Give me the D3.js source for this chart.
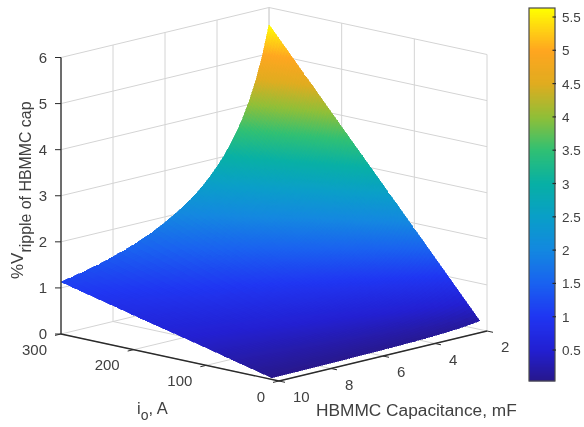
<!DOCTYPE html>
<html><head><meta charset="utf-8">
<script src="https://cdn.jsdelivr.net/npm/d3@7"></script>
<style>html,body{margin:0;padding:0;background:#fff}svg{display:block;filter:blur(0.6px)}text{font-family:"Liberation Sans",Arial,sans-serif;fill:#404040}</style>
</head><body><svg id="c" width="584" height="427"></svg>
<script>
const capacitance=[2,2.25,2.5,2.75,3,3.25,3.5,3.75,4,4.25,4.5,4.75,5,5.5,6,6.5,7,7.5,8,8.5,9,9.5,10];
const current=[300,200,100,10];
const ripple300=[5.63,5.00,4.50,4.09,3.75,3.46,3.22,3.00,2.82,2.65,2.50,2.37,2.25,2.05,1.88,1.73,1.61,1.50,1.41,1.32,1.25,1.19,1.13];
const ripple200=[3.75,3.34,3.00,2.73,2.50,2.31,2.14,2.00,1.88,1.77,1.67,1.58,1.50,1.36,1.25,1.15,1.07,1.00,0.94,0.88,0.83,0.79,0.75];
const ripple100=[1.88,1.67,1.50,1.37,1.25,1.15,1.07,1.00,0.94,0.88,0.83,0.79,0.75,0.68,0.63,0.58,0.54,0.50,0.47,0.44,0.42,0.40,0.38];
const ripple10=[0.188,0.167,0.150,0.137,0.125,0.115,0.107,0.100,0.094,0.088,0.083,0.079,0.075,0.068,0.063,0.058,0.054,0.050,0.047,0.044,0.042,0.040,0.036];
const zTicks=[0,1,2,3,4,5,6];
const ioTicks=[300,200,100,0];
const capTicks=[2,4,6,8,10];
const barTicks=[0.5,1,1.5,2,2.5,3,3.5,4,4.5,5,5.5];
const barLabels=["0.5","1","1.5","2","2.5","3","3.5","4","4.5","5","5.5"];
const colorValues=[0.036,0.5,1,1.5,2,2.5,3,3.5,4,4.5,5,5.3,5.63];
const colorStops=["#28188c","#2320d2","#2036f2","#1a62f0","#1488e0","#0a9fc8","#08b0a5","#30c074","#90bf38","#e0ac20","#ffa620","#ffd015","#ffff00"];
const rows=[ripple300,ripple200,ripple100,ripple10];

const svg=d3.select("#c");
const color=d3.scaleLinear().domain(colorValues).range(colorStops).interpolate(d3.interpolateRgb).clamp(true);
const xC=d3.scaleLinear().domain([10,2]).range([0,208]), yC=d3.scaleLinear().domain([10,2]).range([0,-50]);
const xI=d3.scaleLinear().domain([0,300]).range([0,-218]), yI=d3.scaleLinear().domain([0,300]).range([0,-47]);
const yZ=d3.scaleLinear().domain([0,6]).range([0,-276.5]);
const P=(c,i,z)=>[279+xC(c)+xI(i),381+yC(c)+yI(i)+yZ(z)];
const seg=(g,a,b,st,w)=>g.append("line").attr("x1",a[0]).attr("y1",a[1]).attr("x2",b[0]).attr("y2",b[1]).attr("stroke",st).attr("stroke-width",w);

const grid=svg.append("g"), GC="#d4d4d4";
zTicks.slice(1).forEach(z=>{seg(grid,P(10,300,z),P(2,300,z),GC,1);seg(grid,P(2,300,z),P(2,0,z),GC,1);});
capTicks.forEach(c=>{seg(grid,P(c,300,0),P(c,300,6),GC,1);seg(grid,P(c,300,0),P(c,0,0),GC,1);});
ioTicks.forEach(i=>{seg(grid,P(2,i,0),P(2,i,6),GC,1);seg(grid,P(10,i,0),P(2,i,0),GC,1);});

const surf=svg.append("g").attr("shape-rendering","crispEdges");
for(let r=0;r<rows.length-1;r++){
  const nI=Math.ceil((rows[r][0]-rows[r+1][0])/0.06);
  for(let a=0;a<nI;a++){
    const ta=a/nI,tb=(a+1)/nI;
    for(let k=0;k<capacitance.length-1;k++){
      const c0=capacitance[k],c1=capacitance[k+1];
      const nC=Math.max(2,Math.ceil((rows[0][k]-rows[0][k+1])/0.06));
      const Z=(t,s)=>{const u=rows[r][k]+(rows[r+1][k]-rows[r][k])*t,v=rows[r][k+1]+(rows[r+1][k+1]-rows[r][k+1])*t;return u+(v-u)*s;};
      const I=t=>current[r]+(current[r+1]-current[r])*t;
      for(let b=0;b<nC;b++){
        const sa=b/nC,sb=(b+1)/nC,Ca=c0+(c1-c0)*sa,Cb=c0+(c1-c0)*sb;
        const pts=[P(Ca,I(ta),Z(ta,sa)),P(Cb,I(ta),Z(ta,sb)),P(Cb,I(tb),Z(tb,sb)),P(Ca,I(tb),Z(tb,sa))];
        const col=color((Z(ta,sa)+Z(ta,sb)+Z(tb,sb)+Z(tb,sa))/4);
        surf.append("polygon").attr("points",pts.map(p=>p.join(",")).join(" ")).attr("fill",col).attr("stroke",col).attr("stroke-width",0.6);
      }
    }
  }
}

const AX="#2b2b2b", ax=svg.append("g");
seg(ax,P(10,300,0),P(10,300,6),AX,1.3);
seg(ax,P(10,300,0),P(10,0,0),AX,1.3);
seg(ax,P(10,0,0),P(2,0,0),AX,1.3);
const fs=15;
zTicks.forEach(z=>{const p=P(10,300,z);seg(ax,p,[p[0]-6,p[1]],AX,1);
  svg.append("text").attr("x",p[0]-14).attr("y",p[1]+5).attr("text-anchor","end").attr("font-size",fs).text(z);});
ioTicks.forEach(i=>{const p=P(10,i,0);seg(ax,p,[p[0]-6,p[1]+1.4],AX,1);
  svg.append("text").attr("x",p[0]-14).attr("y",p[1]+20.5).attr("text-anchor","end").attr("font-size",fs).text(i);});
capTicks.forEach(c=>{const p=P(c,0,0);seg(ax,p,[p[0]+6,p[1]+1.3],AX,1);
  svg.append("text").attr("x",p[0]+14).attr("y",p[1]+21).attr("font-size",fs).text(c);});

svg.append("text").attr("x",316).attr("y",416).attr("font-size",17.3).text("HBMMC Capacitance, mF");
const io=svg.append("text").attr("x",137).attr("y",414).attr("font-size",16.5);
io.append("tspan").text("i");io.append("tspan").attr("dy",6).attr("font-size",14).text("o");io.append("tspan").attr("dy",-6).text(", A");
const zl=svg.append("text").attr("transform","translate(23,279) rotate(-90)").attr("font-size",17);
zl.append("tspan").text("%V");zl.append("tspan").attr("dy",8).attr("font-size",15.9).text("ripple of HBMMC cap");

const barY=d3.scaleLinear().domain([0.035,5.635]).range([381,8]);
const bar=svg.append("g");
d3.range(381,8,-1).forEach(y=>bar.append("rect").attr("x",529).attr("y",y-1).attr("width",26).attr("height",1.3).attr("fill",color(barY.invert(y-0.5))));
bar.append("rect").attr("x",529).attr("y",8).attr("width",26).attr("height",373).attr("fill","none").attr("stroke","#4a4a4a").attr("stroke-width",1.2);
barTicks.forEach((v,i)=>{const y=barY(v);seg(bar,[556,y],[552.5,y],AX,1.2);
  svg.append("text").attr("x",562).attr("y",y+5).attr("font-size",13.5).text(barLabels[i]);});
</script></body></html>
